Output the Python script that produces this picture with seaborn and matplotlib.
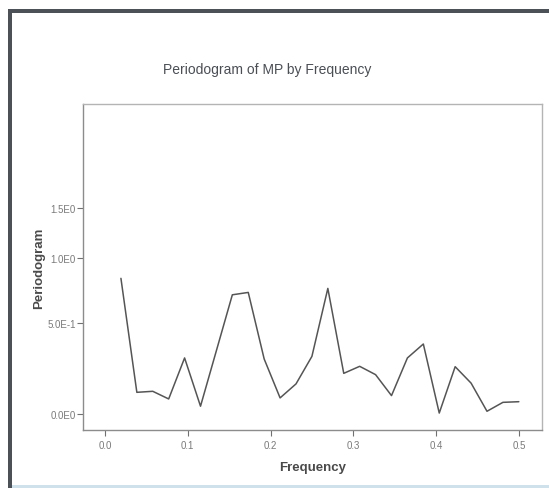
import numpy as np
import pandas as pd
import matplotlib
matplotlib.use("Agg")
import matplotlib.pyplot as plt
from matplotlib.patches import Rectangle
import seaborn as sns

# Periodogram ordinates at the Fourier frequencies k/52
harmonics = list(range(1, 27))
periodogram = [0.828, 0.101, 0.106, 0.069, 0.283, 0.035, 0.326, 0.699, 0.717,
               0.277, 0.074, 0.143, 0.292, 0.748, 0.198, 0.236, 0.191, 0.085,
               0.283, 0.365, 0.004, 0.234, 0.147, 0.012, 0.053, 0.056]
x_ticks = [0.0, 0.1, 0.2, 0.3, 0.4, 0.5]
y_ticks = [0.0, 0.5, 1.0, 1.5]
y_tick_labels = ["0.0E0", "5.0E-1", "1.0E0", "1.5E0"]

df = pd.DataFrame({"Frequency": [k / 52 for k in harmonics],
                   "Periodogram": periodogram})

sns.set_theme(style="white")
plt.rcParams["font.family"] = ["Liberation Sans", "DejaVu Sans"]

fig = plt.figure(figsize=(5.49, 4.89), dpi=100)
fig.patch.set_facecolor("white")

# Dark window frame on the left and top, light strip at the bottom
W, H = 549, 489
fig.patches.append(Rectangle((8 / W, 0), 4 / W, 1 - 10 / H, transform=fig.transFigure,
                             facecolor="#4b5157", edgecolor="none", zorder=0))
fig.patches.append(Rectangle((8 / W, 1 - 14 / H), 1, 4 / H, transform=fig.transFigure,
                             facecolor="#4b5157", edgecolor="none", zorder=0))
fig.patches.append(Rectangle((12 / W, 0), 1, 3 / H, transform=fig.transFigure,
                             facecolor="#cfe2ec", edgecolor="none", zorder=0))

ax = fig.add_axes([83 / W, 1 - 431 / H, 459 / W, 326 / H])
ax.set_facecolor("white")


def safe_log(v):
    v = np.asarray(v, dtype=float)
    return np.sign(v) * np.log1p(np.abs(v))


def safe_exp(v):
    v = np.asarray(v, dtype=float)
    return np.sign(v) * np.expm1(np.abs(v))


ax.set_yscale("function", functions=(safe_log, safe_exp))

sns.lineplot(data=df, x="Frequency", y="Periodogram", ax=ax,
             color="#555555", linewidth=1.1)

ax.set_xlim(-0.0266, 0.528)
ax.set_ylim(-0.074, 2.97)
ax.set_xticks(x_ticks)
ax.set_xticklabels([f"{t:.1f}" for t in x_ticks])
ax.set_yticks(y_ticks)
ax.set_yticklabels(y_tick_labels)
ax.minorticks_off()

for s in ax.spines.values():
    s.set_color("#b4b4b4")
    s.set_linewidth(1.0)
ax.spines["bottom"].set_color("#8c8c8c")
ax.spines["left"].set_color("#8c8c8c")

ax.tick_params(axis="both", which="major", direction="out", length=4, width=0.8,
               color="#707070", labelsize=7, labelcolor="#7a7a7a",
               bottom=True, left=True)
ax.tick_params(axis="x", pad=3)
ax.tick_params(axis="y", pad=1)

ax.set_xlabel("Frequency", fontsize=9.5, fontweight="bold", color="#4a4a4a", labelpad=8)
ax.set_ylabel("Periodogram", fontsize=9.5, fontweight="bold", color="#4a4a4a", labelpad=1.5)

fig.text(267 / W, 1 - 70 / H, "Periodogram of MP by Frequency", ha="center", va="center",
         fontsize=10, color="#4a4f55")

fig.savefig("out.png", dpi=100)
